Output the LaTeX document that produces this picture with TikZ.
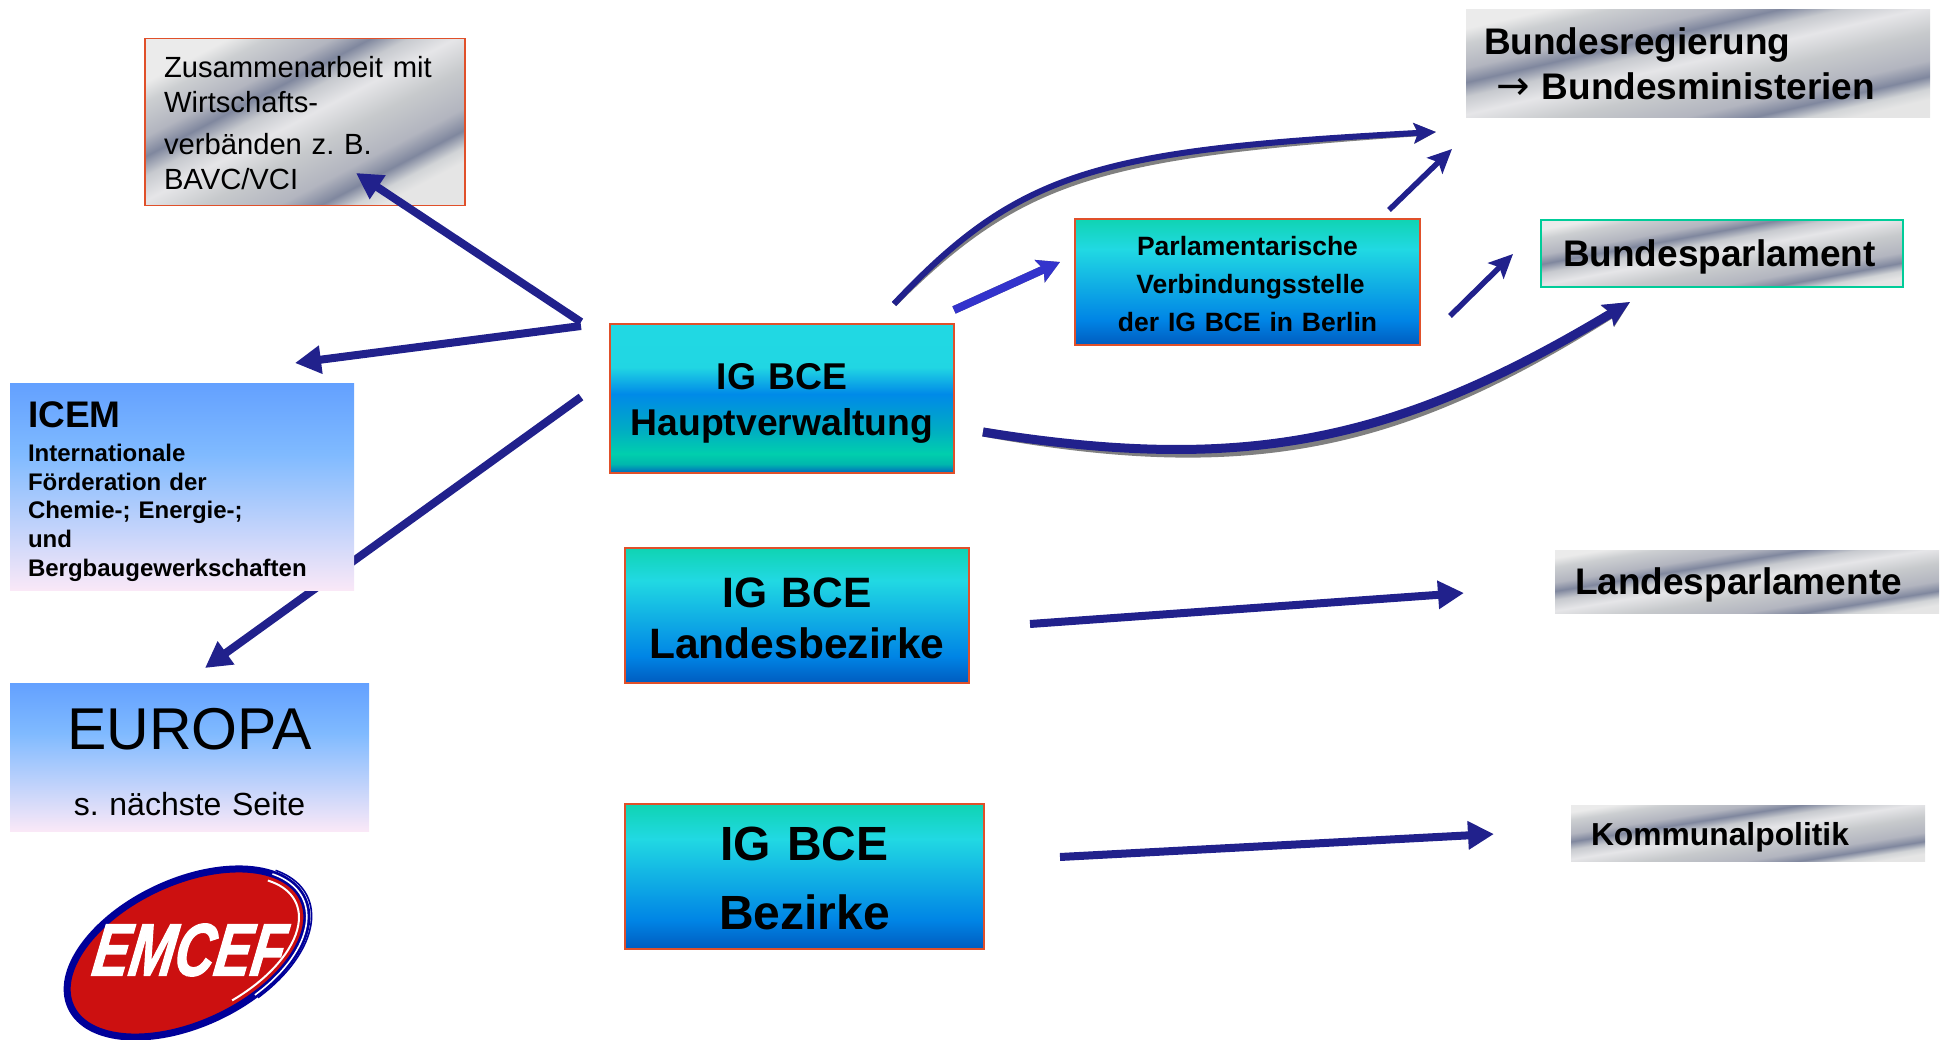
\documentclass[tikz,border=0pt]{standalone}
\usepackage{fontspec}
\setmainfont{Liberation Sans}
\newfontfamily\arrowfont{DejaVu Sans}
\usetikzlibrary{arrows.meta}
\newcommand\pushdown[1]{\vrule width 0pt height\dimexpr 0.73em+#1\relax}
% metallic diagonal bands
\pgfdeclareverticalshading{metal}{100bp}{
 rgb(0bp)=(0.92,0.92,0.92);
 rgb(25bp)=(0.92,0.92,0.92);
 rgb(29bp)=(0.80,0.81,0.82);
 rgb(36bp)=(0.70,0.71,0.75);
 rgb(40bp)=(0.50,0.53,0.62);
 rgb(44bp)=(0.78,0.79,0.81);
 rgb(49bp)=(0.90,0.90,0.91);
 rgb(56bp)=(0.78,0.79,0.80);
 rgb(64bp)=(0.70,0.71,0.75);
 rgb(68.5bp)=(0.50,0.53,0.62);
 rgb(72bp)=(0.82,0.83,0.84);
 rgb(75bp)=(0.90,0.90,0.90);
 rgb(100bp)=(0.90,0.90,0.90)}
\pgfdeclareverticalshading{tealA}{100bp}{
 rgb(0bp)=(0.00,0.40,0.75);
 rgb(25bp)=(0.00,0.40,0.75);
 rgb(28bp)=(0.00,0.72,0.68);
 rgb(31.5bp)=(0.00,0.81,0.68);
 rgb(40bp)=(0.00,0.67,0.77);
 rgb(51.5bp)=(0.00,0.54,0.91);
 rgb(60.5bp)=(0.13,0.84,0.89);
 rgb(75bp)=(0.13,0.85,0.89);
 rgb(100bp)=(0.13,0.85,0.89)}
\pgfdeclareverticalshading{tealB}{100bp}{
 rgb(0bp)=(0.00,0.36,0.75);
 rgb(25bp)=(0.00,0.36,0.75);
 rgb(35bp)=(0.00,0.52,0.90);
 rgb(63bp)=(0.13,0.85,0.89);
 rgb(75bp)=(0.06,0.83,0.70);
 rgb(100bp)=(0.06,0.83,0.70)}
\pgfdeclareverticalshading{skyblue}{100bp}{
 rgb(0bp)=(0.98,0.91,0.97);
 rgb(25bp)=(0.98,0.91,0.97);
 rgb(58bp)=(0.50,0.73,1.00);
 rgb(75bp)=(0.39,0.63,1.00);
 rgb(100bp)=(0.39,0.63,1.00)}
\definecolor{arrowblue}{HTML}{21218C}
\definecolor{arrowlight}{HTML}{3333CC}
\definecolor{boxred}{HTML}{E0502A}
\definecolor{boxgreen}{HTML}{00CC99}
\definecolor{logored}{HTML}{CC1010}
\definecolor{logoblue}{HTML}{000099}
\tikzset{
 basebox/.style={inner ysep=0pt,outer sep=0pt,inner xsep=#1},
 metalbox/.style={shade,shading=metal,shading angle=#1},
 tealbox/.style={shade,shading=tealB,draw=boxred,line width=1.4pt},
 flow/.style={draw=arrowblue,line width=8pt,-{Triangle[length=26pt,width=27pt]}},
 thinflow/.style={draw=arrowblue,line width=5.5pt,-{Stealth[length=24pt,width=22pt,inset=5pt]}},
 shadowline/.style={draw=black!50,line cap=butt},
}
\frenchspacing
\begin{document}
\begin{tikzpicture}[x=1pt,y=-1pt]
\useasboundingbox (0,0) rectangle (1941,1040);
% free ends of the connectors
\coordinate (hubA) at (581,322);
\coordinate (hubB) at (581,326);
\coordinate (hubC) at (581,397);
\coordinate (toZus) at (356,173);
\coordinate (toIcem) at (295,363);
\coordinate (toEuropa) at (205,668);
\coordinate (topS) at (894,304);
\coordinate (topE) at (1436,132);
\coordinate (midS) at (954,310);
\coordinate (midE) at (1060,262);
\coordinate (regS) at (1389,210);
\coordinate (regE) at (1452,149);
\coordinate (parS) at (1450,316);
\coordinate (parE) at (1513,254);
\coordinate (botS) at (983,432);
\coordinate (botE) at (1630,302);
\coordinate (lanS) at (1030,624);
\coordinate (lanE) at (1464,593);
\coordinate (bezS) at (1060,857);
\coordinate (bezE) at (1494,834);

% arrow that runs behind the ICEM box
\draw[flow] (hubC) -- (toEuropa);

% boxes
\node[basebox=19pt,metalbox=207.6,draw=boxred,line width=1.2pt,text width=282pt,minimum height=167pt,align=left,
      font=\fontsize{29.2}{35}\selectfont] (zus) at (305,122)
 {\pushdown{2.5pt}Zusammenarbeit mit\\Wirtschafts-\\[7pt]verbänden z. B.\\BAVC/VCI\par};
\node[basebox=18pt,shade,shading=skyblue,text width=308pt,minimum height=206pt,align=left,
      font=\bfseries\fontsize{24}{28.7}\selectfont] (icem) at (182,487)
 {{\fontsize{37}{37}\selectfont\pushdown{8pt}ICEM\par}\vspace{5pt}Internationale\\Förderation der\\Chemie-; Energie-;\\und\\Bergbaugewerkschaften\par};
\node[basebox=0pt,shade,shading=skyblue,text width=359pt,minimum height=148pt,align=center,
      font=\fontsize{32}{65.5}\selectfont] (europa) at (189.5,757)
 {{\fontsize{59}{59}\selectfont\pushdown{8pt}EUROPA\par}s. nächste Seite\par};
\node[basebox=0pt,tealbox,shading=tealA,text width=344pt,minimum height=149pt,align=center,
      font=\bfseries\fontsize{37.3}{46}\selectfont] (haupt) at (782,398.5)
 {\pushdown{9pt}IG BCE\\Hauptverwaltung\par};
\node[basebox=0pt,tealbox,text width=344pt,minimum height=135pt,align=center,
      font=\bfseries\fontsize{42.5}{51}\selectfont] (landes) at (797,615.5)
 {\pushdown{5pt}IG BCE\\Landesbezirke\par};
\node[basebox=0pt,tealbox,text width=359pt,minimum height=145pt,align=center,
      font=\bfseries\fontsize{48}{69}\selectfont] (bezirke) at (804.5,876.5)
 {\pushdown{2pt}IG BCE\\Bezirke\par};
\node[basebox=0pt,tealbox,text width=345pt,minimum height=126pt,align=center,
      font=\bfseries\fontsize{26.5}{38}\selectfont] (parl) at (1247.5,282)
 {\pushdown{3pt}Parlamentarische\\\hspace*{6pt}Verbindungsstelle\\der IG BCE in Berlin\par};
\node[basebox=18pt,metalbox=193.1,text width=428pt,minimum height=108pt,align=left,
      font=\bfseries\fontsize{37}{44.5}\selectfont] (reg) at (1698,64)
 {Bundesregierung\\\hspace*{12pt}{\arrowfont\mdseries\fontsize{40}{44.5}\selectfont →} Bundesministerien\par};
\node[basebox=22pt,metalbox=190.5,draw=boxgreen,line width=2.6pt,text width=318pt,minimum height=67pt,align=left,
      font=\bfseries\fontsize{37}{44}\selectfont] (bpar) at (1722,253.5)
 {\pushdown{7.5pt}Bundesparlament\par};
\node[basebox=20pt,metalbox=189.3,text width=344pt,minimum height=63pt,align=left,
      font=\bfseries\fontsize{37}{44}\selectfont] (lpar) at (1747,581.5)
 {\pushdown{7.5pt}Landesparlamente\par};
\node[basebox=20pt,metalbox=189,text width=314pt,minimum height=56pt,align=left,
      font=\bfseries\fontsize{31.8}{38}\selectfont] (komm) at (1748,833)
 {\pushdown{7.5pt}Kommunalpolitik\par};

% EMCEF logo
\begin{scope}[shift={(187,953)}]
 \draw[logoblue,line width=7pt,fill=logored,rotate=25] (0,0) ellipse [x radius=128pt,y radius=71pt];
 \draw[white,line width=2pt,rotate=25] (-80:120pt and 63pt) arc [start angle=-80,end angle=30,x radius=120pt,y radius=63pt];
 \draw[white,line width=1.6pt,rotate=25] (-70:128pt and 71pt) arc [start angle=-70,end angle=30,x radius=128pt,y radius=71pt];
 \draw[logoblue,line width=1.6pt,rotate=25] (-70:133pt and 75pt) arc [start angle=-70,end angle=30,x radius=133pt,y radius=75pt];
\end{scope}
\begin{scope}[shift={(190,950)},xscale=.74,xslant=.2,transform shape]
 \node[text=white,font=\bfseries\itshape\addfontfeature{FakeBold=2}\fontsize{74}{74}\selectfont,inner sep=0pt] (emcef) at (0,0) {EMCEF};
\end{scope}

% connectors
\draw[flow] (hubA) -- (toZus);
\draw[flow] (hubB) -- (toIcem);
% shadows of the raised arrows
\draw[shadowline,line width=6pt,-{Stealth[length=22pt,width=20pt,inset=4pt]},shift={(3pt,-5pt)}] (topS) .. controls (1020,170) and (1100,150) .. (topE);
\draw[shadowline,line width=8pt,-{Stealth[length=22pt,width=24pt,inset=4pt]},shift={(2pt,-5pt)}] (midS) -- (midE);
\draw[shadowline,line width=9pt,-{Stealth[length=26pt,width=24pt,inset=4pt]},shift={(2pt,-6pt)}] (botS) .. controls (1250,475) and (1400,440) .. (botE);
\draw[draw=arrowblue,line width=6pt,-{Stealth[length=22pt,width=20pt,inset=4pt]}] (topS) .. controls (1020,170) and (1100,150) .. (topE);
\draw[draw=arrowlight,line width=8pt,-{Stealth[length=22pt,width=24pt,inset=4pt]}] (midS) -- (midE);
\draw[draw=arrowblue,line width=9pt,-{Stealth[length=26pt,width=24pt,inset=4pt]}] (botS) .. controls (1250,475) and (1400,440) .. (botE);
\draw[thinflow] (regS) -- (regE);
\draw[thinflow] (parS) -- (parE);
\draw[flow] (lanS) -- (lanE);
\draw[flow] (bezS) -- (bezE);
\end{tikzpicture}
\end{document}
